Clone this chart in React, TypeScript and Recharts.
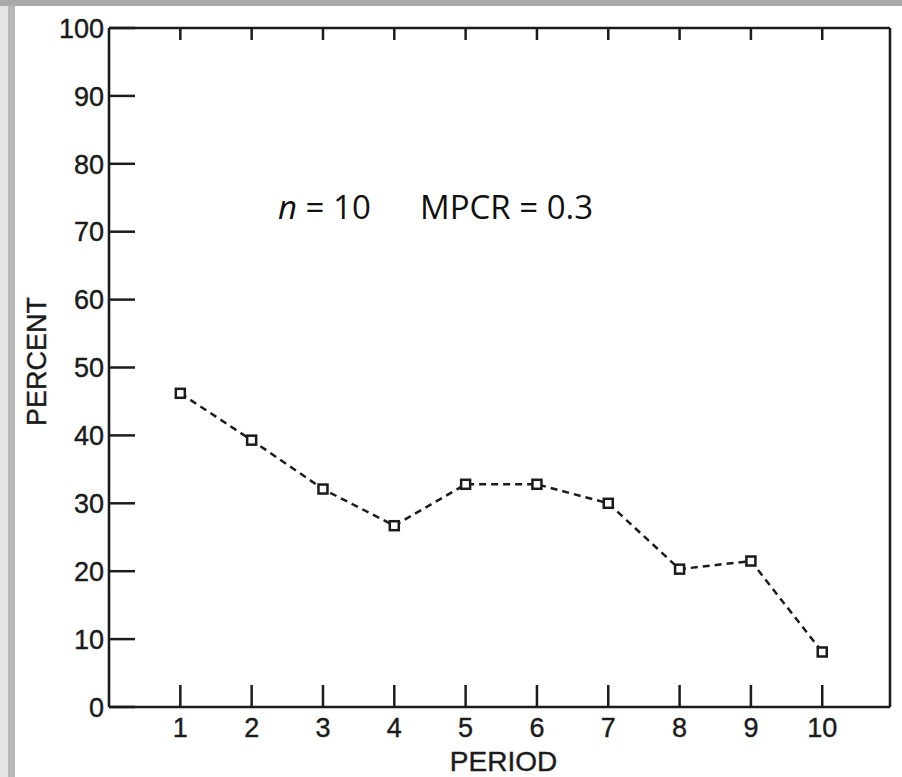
import React from 'react';
import { LineChart, Line, XAxis, YAxis } from 'recharts';

const periods = [1, 2, 3, 4, 5, 6, 7, 8, 9, 10];
const percents = [46.2, 39.3, 32.1, 26.7, 32.8, 32.8, 30.0, 20.3, 21.5, 8.1];
const xTicks = [1, 2, 3, 4, 5, 6, 7, 8, 9, 10];
const yTicks = [0, 10, 20, 30, 40, 50, 60, 70, 80, 90, 100];
const xTitle = 'PERIOD';
const yTitle = 'PERCENT';
const noteN = 'n';
const noteNValue = ' = 10';
const noteMpcr = 'MPCR = 0.3';

const data = periods.map((p, i) => ({ period: p, percent: percents[i] }));

const INK = '#1b1b1b';
const TICK_FONT = '"Liberation Sans", Arial, sans-serif';
const NOTE_FONT = '"Open Sans", "Noto Sans", sans-serif';
const W = 902;
const H = 777;

const BottomTick = (props: any) => {
  const { x, y, payload } = props;
  return (
    <g>
      <line x1={x} x2={x} y1={y} y2={y - 22} stroke={INK} strokeWidth={2.5} />
      <text x={x} y={y + 30} textAnchor="middle" fontSize={27} fill={INK} stroke={INK} strokeWidth={0.4} fontFamily={TICK_FONT}>
        {payload.value}
      </text>
    </g>
  );
};

const TopTick = (props: any) => {
  const { x, y } = props;
  return <line x1={x} x2={x} y1={y} y2={y + 12} stroke={INK} strokeWidth={2.5} />;
};

const LeftTick = (props: any) => {
  const { x, y, payload } = props;
  return (
    <g>
      <line x1={x} x2={x + 26} y1={y} y2={y} stroke={INK} strokeWidth={2.5} />
      <text x={x - 5} y={y} dy="0.36em" textAnchor="end" fontSize={27} fill={INK} stroke={INK} strokeWidth={0.4} fontFamily={TICK_FONT}>
        {payload.value}
      </text>
    </g>
  );
};

const RightTick = (props: any) => {
  const { x, y } = props;
  return <line x1={x} x2={x - 15} y1={y} y2={y} stroke={INK} strokeWidth={2.5} />;
};

const SquareDot = (props: any) => {
  const { cx, cy, index } = props;
  if (cx == null || cy == null) return <g key={index} />;
  return (
    <rect key={index} x={cx - 4.5} y={cy - 4.5} width={9} height={9} fill="#fff" stroke={INK} strokeWidth={2.5} />
  );
};

const XTitle = (props: any) => {
  const vb = props.viewBox || {};
  return (
    <text x={vb.x + vb.width / 2 + 4} y={vb.y + 64} textAnchor="middle" fontSize={28} fill={INK} stroke={INK} strokeWidth={0.4} fontFamily={TICK_FONT}>
      {xTitle}
    </text>
  );
};

const YTitle = (props: any) => {
  const vb = props.viewBox || {};
  const cx = vb.x + vb.width - 73;
  const cy = vb.y + vb.height / 2 - 6;
  return (
    <text x={cx} y={cy} dy="0.36em" textAnchor="middle" fontSize={27} fill={INK} stroke={INK} strokeWidth={0.4} fontFamily={TICK_FONT} transform={`rotate(-90 ${cx} ${cy})`}>
      {yTitle}
    </text>
  );
};

export default function App() {
  return (
    <div style={{ position: 'absolute', left: 0, top: 0, width: W, height: H, background: '#fff', overflow: 'hidden' }}>
      <div style={{ position: 'absolute', left: 0, top: 0, width: 8, height: H, background: '#e4e4e4' }} />
      <div style={{ position: 'absolute', left: 8, top: 0, width: 7, height: H, background: '#b8b8b8' }} />
      <div style={{ position: 'absolute', left: 0, top: 0, width: W, height: 6, background: '#aaaaaa' }} />
      <div style={{ position: 'absolute', left: 0, top: 0 }}>
        <LineChart width={W} height={H} data={data} margin={{ top: 26, right: 10, bottom: 30, left: 49 }}>
          <XAxis
            xAxisId="bottom"
            dataKey="period"
            type="number"
            domain={[0, 10.95]}
            ticks={xTicks}
            orientation="bottom"
            height={40}
            tickSize={0}
            tickMargin={0}
            tickLine={false}
            tick={BottomTick}
            axisLine={{ stroke: INK, strokeWidth: 2.6 }}
            label={XTitle}
          />
          <XAxis
            xAxisId="top"
            dataKey="period"
            type="number"
            domain={[0, 10.95]}
            ticks={xTicks}
            orientation="top"
            height={2}
            tickSize={0}
            tickMargin={0}
            tickLine={false}
            tick={TopTick}
            axisLine={{ stroke: INK, strokeWidth: 2.6 }}
          />
          <YAxis
            yAxisId="left"
            type="number"
            domain={[0, 100]}
            ticks={yTicks}
            orientation="left"
            width={60}
            tickSize={0}
            tickMargin={0}
            tickLine={false}
            tick={LeftTick}
            axisLine={{ stroke: INK, strokeWidth: 2.6 }}
            label={YTitle}
          />
          <YAxis
            yAxisId="right"
            type="number"
            domain={[0, 100]}
            ticks={yTicks}
            orientation="right"
            width={2}
            tickSize={0}
            tickMargin={0}
            tickLine={false}
            tick={RightTick}
            axisLine={{ stroke: INK, strokeWidth: 2.6 }}
          />
          <Line
            xAxisId="bottom"
            yAxisId="left"
            type="linear"
            dataKey="percent"
            stroke={INK}
            strokeWidth={2.5}
            strokeDasharray="7 5"
            dot={SquareDot}
            activeDot={false}
            isAnimationActive={false}
          />
        </LineChart>
      </div>
      <svg style={{ position: 'absolute', left: 0, top: 0, pointerEvents: 'none' }} width={W} height={H}>
        <text x={278} y={219} fontSize={33} fill="#111" fontFamily={NOTE_FONT}>
          <tspan fontStyle="italic">{noteN}</tspan>
          <tspan>{noteNValue}</tspan>
        </text>
        <text x={420} y={219} fontSize={33} fill="#111" fontFamily={NOTE_FONT}>
          {noteMpcr}
        </text>
      </svg>
    </div>
  );
}
